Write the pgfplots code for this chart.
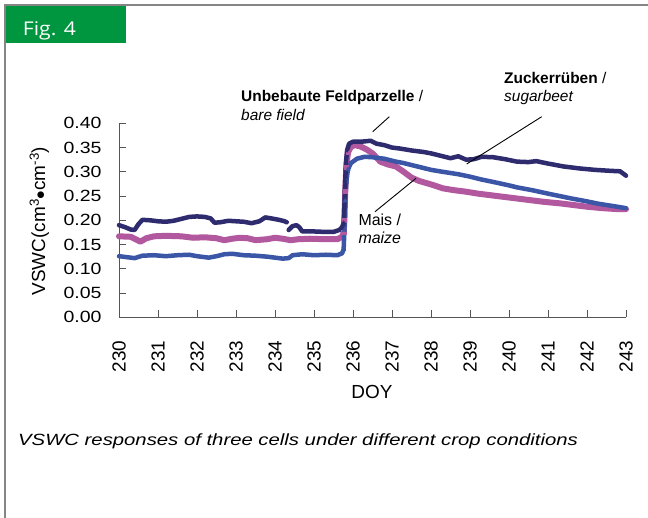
\documentclass[border=0pt]{standalone}
\usepackage{pgfplots}
\pgfplotsset{compat=1.18}
\usepackage{pgfplotstable}
\usepackage{fontspec}
\setmainfont{Liberation Sans}
\newfontfamily\widefont[FakeStretch=1.2]{Liberation Sans}
\newfontfamily\capfont[FakeStretch=1.25]{Liberation Sans}
\newfontfamily\figfont[FakeStretch=1.12]{Open Sans}
\definecolor{navy}{HTML}{2E2B6F}
\definecolor{mag}{HTML}{B2589F}
\definecolor{blu}{HTML}{3B56A6}
\definecolor{figgreen}{HTML}{00963F}
\definecolor{framegray}{HTML}{858585}
\definecolor{axgray}{HTML}{555555}

\pgfplotstableread{
x y
230.0 0.190
230.15 0.186
230.3 0.181
230.4 0.180
230.5 0.192
230.6 0.201
230.8 0.200
231.0 0.198
231.2 0.197
231.4 0.199
231.6 0.203
231.8 0.207
232.0 0.208
232.2 0.207
232.35 0.204
232.45 0.195
232.6 0.196
232.8 0.199
233.0 0.198
233.2 0.197
233.4 0.194
233.6 0.198
233.75 0.206
233.9 0.204
234.1 0.201
234.25 0.198
234.3 0.196
234.32 nan
234.35 0.180
234.45 0.188
234.55 0.190
234.62 0.186
234.7 0.177
235.0 0.177
235.3 0.176
235.5 0.176
235.65 0.180
235.72 0.186
235.76 0.194
235.78 0.230
235.80 0.280
235.82 0.320
235.85 0.345
235.9 0.358
236.0 0.362
236.2 0.362
236.45 0.364
236.6 0.358
236.8 0.355
237.0 0.350
237.2 0.348
237.5 0.344
237.8 0.341
238.0 0.338
238.3 0.332
238.5 0.328
238.7 0.332
238.9 0.325
239.1 0.326
239.3 0.331
239.6 0.330
239.9 0.326
240.2 0.321
240.5 0.320
240.7 0.322
241.0 0.317
241.4 0.311
241.8 0.307
242.2 0.304
242.6 0.302
242.85 0.301
243.0 0.292
}\bare

\pgfplotstableread{
x y
230.0 0.167
230.3 0.166
230.45 0.160
230.55 0.156
230.7 0.163
230.9 0.167
231.2 0.168
231.6 0.167
231.9 0.164
232.2 0.165
232.5 0.163
232.7 0.159
232.9 0.162
233.1 0.164
233.3 0.163
233.5 0.159
233.8 0.161
234.0 0.164
234.2 0.162
234.4 0.159
234.6 0.161
234.9 0.162
235.3 0.161
235.6 0.161
235.72 0.166
235.76 0.175
235.78 0.200
235.80 0.260
235.83 0.310
235.87 0.340
235.95 0.352
236.05 0.355
236.2 0.352
236.35 0.346
236.5 0.338
236.7 0.321
236.9 0.315
237.1 0.311
237.3 0.300
237.5 0.288
237.7 0.281
238.0 0.274
238.3 0.266
238.6 0.262
238.9 0.259
239.2 0.255
239.5 0.252
239.9 0.248
240.2 0.245
240.6 0.241
240.9 0.238
241.3 0.235
241.6 0.232
242.0 0.228
242.4 0.225
242.8 0.223
243.0 0.223
}\maize

\pgfplotstableread{
x y
230.0 0.126
230.2 0.124
230.4 0.122
230.6 0.127
230.9 0.128
231.2 0.126
231.5 0.128
231.8 0.129
232.0 0.126
232.3 0.123
232.5 0.126
232.7 0.130
232.9 0.131
233.2 0.128
233.5 0.127
233.8 0.125
234.0 0.123
234.2 0.121
234.35 0.122
234.45 0.128
234.7 0.130
235.0 0.128
235.3 0.129
235.6 0.128
235.72 0.132
235.76 0.140
235.78 0.180
235.80 0.240
235.83 0.280
235.87 0.305
235.95 0.318
236.1 0.327
236.3 0.331
236.5 0.330
236.8 0.327
237.1 0.321
237.3 0.318
237.6 0.312
238.0 0.304
238.3 0.300
238.7 0.295
239.0 0.290
239.3 0.284
239.6 0.279
240.0 0.272
240.2 0.268
240.6 0.262
241.0 0.255
241.3 0.250
241.6 0.245
242.0 0.239
242.3 0.234
242.7 0.229
243.0 0.225
}\sugar

\begin{document}
\begin{tikzpicture}
\path[use as bounding box] (0,0) rectangle (648bp,-518bp);
\fill[figgreen] (4bp,-4.5bp) rectangle (126bp,-42.7bp);
\draw[framegray, line width=1.5bp] (4.8bp,-518bp) -- (4.8bp,-4.8bp) -- (648bp,-4.8bp);
\node[anchor=base west, inner sep=0, text=white, font=\figfont\fontsize{19}{22}\selectfont] at (22.7bp,-35bp) {Fig. 4};

\begin{axis}[
  at={(119bp,-317.3bp)}, anchor=south west,
  scale only axis, width=507bp, height=194bp,
  xmin=230, xmax=243, ymin=0, ymax=0.40,
  axis x line=bottom, axis y line=left,
  axis line style={-, axgray, line width=0.8bp},
  tick align=inside, major tick length=7bp,
  tick style={axgray, line width=0.8bp},
  xtick={230,...,243},
  ytick={0,0.05,0.10,0.15,0.20,0.25,0.30,0.35,0.40},
  /pgf/number format/assume math mode=true,
  yticklabel style={font=\widefont\fontsize{16.3}{19}\selectfont,
    /pgf/number format/fixed, /pgf/number format/fixed zerofill,
    /pgf/number format/precision=2, xshift=-14bp},
  xticklabel style={font=\fontsize{19}{22}\selectfont, yshift=-20bp, rotate=90, anchor=east},
  clip=false,
  unbounded coords=jump,
]
\addplot[mag, line width=6bp, line join=round, line cap=round] table {\maize};
\addplot[blu, line width=4.5bp, line join=round, line cap=round] table {\sugar};
\addplot[navy, line width=4.5bp, line join=round, line cap=round] table {\bare};
\addplot[only marks, mark=square*, mag, mark size=2.2bp, restrict x to domain=235.75:235.88] table {\maize};
\addplot[only marks, mark=triangle*, blu, mark size=2.6bp, restrict x to domain=235.75:235.88] table {\sugar};
\addplot[only marks, mark=diamond*, navy, mark size=2.4bp, restrict x to domain=235.75:235.88] table {\bare};
\end{axis}

% axis labels
\node[rotate=90, anchor=base, inner sep=0, font=\fontsize{19}{22}\selectfont] at (45bp,-221bp) {VSWC(cm\textsuperscript{3}$\bullet$cm\textsuperscript{-3})};
\node[anchor=base, inner sep=0, font=\fontsize{19}{22}\selectfont] at (372bp,-398.3bp) {DOY};

% annotations
\node[anchor=base west, inner sep=0, font=\fontsize{15.5}{18}\selectfont] at (241bp,-101.7bp) {\textbf{Unbebaute Feldparzelle} /};
\node[anchor=base west, inner sep=0, font=\fontsize{15.5}{18}\selectfont] at (241bp,-120bp) {\textit{bare field}};
\node[anchor=base west, inner sep=0, font=\fontsize{15.5}{18}\selectfont] at (504bp,-83.3bp) {\textbf{Zuckerrüben} /};
\node[anchor=base west, inner sep=0, font=\fontsize{15.5}{18}\selectfont] at (504bp,-101.7bp) {\textit{sugarbeet}};
\node[anchor=base west, inner sep=0, font=\fontsize{16}{18}\selectfont] at (358.3bp,-225.7bp) {Mais /};
\node[anchor=base west, inner sep=0, font=\fontsize{16}{18}\selectfont] at (358.3bp,-243.3bp) {\textit{maize}};
\draw[black, line width=0.9bp] (389.3bp,-116.7bp) -- (372.7bp,-131.7bp);
\draw[black, line width=0.9bp] (541.7bp,-116.7bp) -- (466.7bp,-164bp);
\draw[black, line width=0.9bp] (375bp,-211.7bp) -- (416bp,-178.3bp);

% caption
\node[anchor=base west, inner sep=0, font=\capfont\itshape\fontsize{16.3}{19}\selectfont] at (18bp,-445bp) {VSWC responses of three cells under different crop conditions};
\end{tikzpicture}
\end{document}
